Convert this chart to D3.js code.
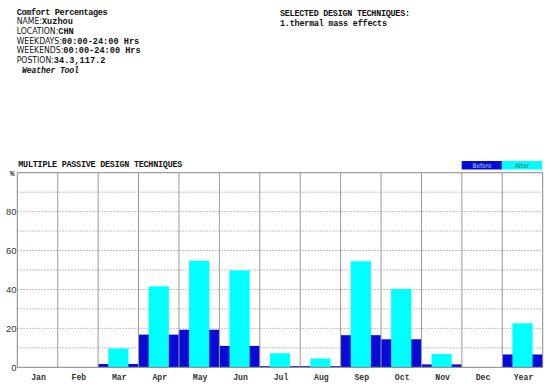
<!DOCTYPE html>
<html><head><meta charset="utf-8">
<script src="https://cdn.jsdelivr.net/npm/d3@7"></script>
<style>body{margin:0;background:#fff}svg{display:block}</style>
</head><body>
<svg id="c" width="550" height="386"></svg>
<script>
const months = ["Jan","Feb","Mar","Apr","May","Jun","Jul","Aug","Sep","Oct","Nov","Dec","Year"];
const before = [0,0,1.7,16.8,19.3,11,0.6,0.6,16.5,14.4,1.5,0,6.6];
const after  = [0,0,9.7,41.6,54.8,49.8,7.2,4.5,54.5,40.3,6.8,0,22.6];
const yTicks = [0,20,40,60,80];
const gridVals = [10,20,30,40,50,60,70,80,90];
const infoLines = [
  ["Comfort Percentages",""],
  ["NAME:","Xuzhou"],
  ["LOCATION:","CHN"],
  ["WEEKDAYS:","00:00-24:00 Hrs"],
  ["WEEKENDS:","00:00-24:00 Hrs"],
  ["POSTION:","34.3,117.2"]
];
const techLines = ["SELECTED DESIGN TECHNIQUES:","1.thermal mass effects"];
const legend = ["Before","After"];

const svg = d3.select("#c");
const L=17.3, R=542.7, T=172.7, B=367.3;
const x = d3.scaleBand().domain(months).range([L,R]).padding(0);
const y = d3.scaleLinear().domain([0,100]).range([B,T]);
const mono = "'Liberation Mono', 'DejaVu Sans Mono', monospace";
const narrow = "'Liberation Sans Narrow', 'DejaVu Sans Condensed', sans-serif";
const sans = "'Liberation Sans', Arial, sans-serif";

// header text
infoLines.forEach((d,i)=>{
  const t = svg.append("text").attr("x",16.7).attr("y",14.5+i*9.7)
    .attr("font-size",8.6).attr("fill","#111");
  if(i===0){
    t.append("tspan").attr("font-family",mono).attr("font-weight","bold").text(d[0])
      .attr("textLength",91);
  } else {
    t.append("tspan").attr("font-family",narrow).attr("font-size",8.6).text(d[0]);
    t.append("tspan").attr("font-family",mono).attr("font-weight","bold").text(d[1]);
  }
});
svg.append("text").attr("x",22).attr("y",72.5).attr("font-family",mono)
  .attr("font-size",8.2).attr("font-style","italic").attr("font-weight","bold")
  .attr("fill","#111").attr("textLength",57).text("Weather Tool");
techLines.forEach((d,i)=>{
  svg.append("text").attr("x",280).attr("y",16+i*10).attr("font-family",mono)
    .attr("font-size",8.4).attr("font-weight","bold").attr("fill","#111")
    .attr("textLength", i===0?130:107).text(d);
});
svg.append("text").attr("x",18.3).attr("y",167).attr("font-family",mono)
  .attr("font-size",8.4).attr("font-weight","bold").attr("fill","#111")
  .attr("textLength",164).text("MULTIPLE PASSIVE DESIGN TECHNIQUES");

// horizontal dotted grid
svg.append("g").selectAll("line").data(gridVals).join("line")
  .attr("x1",L).attr("x2",R).attr("y1",d=>y(d)).attr("y2",d=>y(d))
  .attr("stroke","#999").attr("stroke-width",0.8).attr("stroke-dasharray","1.5,1.5");

// bars
svg.append("g").selectAll("rect").data(months).join("rect")
  .attr("x",d=>x(d)).attr("width",x.bandwidth())
  .attr("y",(d,i)=>y(before[i])).attr("height",(d,i)=>B-y(before[i]))
  .attr("fill","#0a0ad6");
svg.append("g").selectAll("rect").data(months).join("rect")
  .attr("x",d=>x(d)+x.bandwidth()*0.25).attr("width",x.bandwidth()*0.5)
  .attr("y",(d,i)=>y(after[i])).attr("height",(d,i)=>B-y(after[i]))
  .attr("fill","#00ffff");

// vertical lines
svg.append("g").selectAll("line").data(months.slice(1)).join("line")
  .attr("x1",d=>x(d)).attr("x2",d=>x(d)).attr("y1",T).attr("y2",B)
  .attr("stroke","#9a9a9a").attr("stroke-width",1);

// border
svg.append("rect").attr("x",L).attr("y",T).attr("width",R-L).attr("height",B-T)
  .attr("fill","none").attr("stroke","#888").attr("stroke-width",1);

// y labels
svg.append("g").selectAll("text").data(yTicks).join("text")
  .attr("x",16.5).attr("y",d=>y(d)+3.3).attr("text-anchor","end")
  .attr("font-family",sans).attr("font-size",9.5).attr("fill","#333").text(d=>d);
svg.append("text").attr("x",10).attr("y",176).attr("font-family",mono)
  .attr("font-size",7.5).attr("font-weight","bold").attr("fill","#222").text("%");

// x labels
svg.append("g").selectAll("text").data(months).join("text")
  .attr("x",d=>x(d)+x.bandwidth()/2+1).attr("y",379.5).attr("text-anchor","middle")
  .attr("font-family",mono).attr("font-size",8.2).attr("font-weight","bold").attr("fill","#333").text(d=>d);

// legend
const lx = [461.7,501.7], lw=40.5;
const lfill = ["#0a0ad6","#00ffff"], ltext=["#a8d8ff","#0a6a6a"];
legend.forEach((d,i)=>{
  svg.append("rect").attr("x",lx[i]).attr("y",161).attr("width",lw).attr("height",8.5).attr("fill",lfill[i]);
  svg.append("text").attr("x",lx[i]+lw/2).attr("y",168).attr("text-anchor","middle")
    .attr("font-family",narrow).attr("font-size",6.5).attr("fill",ltext[i]).text(d);
});
</script>
</body></html>
